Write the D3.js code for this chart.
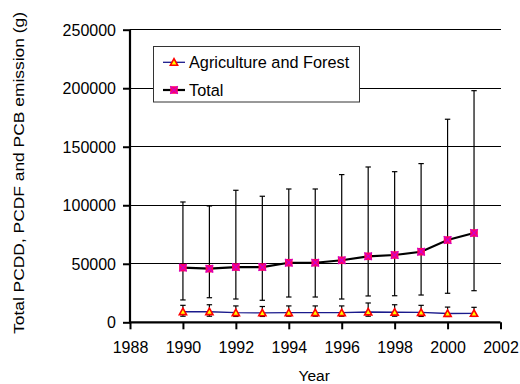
<!DOCTYPE html>
<html><head><meta charset="utf-8">
<script src="https://cdn.jsdelivr.net/npm/d3@7"></script>
<style>
body{margin:0;background:#fff;}
text{font-family:"Liberation Sans",Arial,sans-serif;fill:#000;}
</style></head>
<body><svg id="c" width="520" height="384"></svg>
<script>
const years = [1990,1991,1992,1993,1994,1995,1996,1997,1998,1999,2000,2001];
const totalValues = [46700,45800,47200,47200,50900,50900,53000,56400,57500,60300,70300,76300];
const totalUpper = [102800,99400,112800,107700,113900,113900,126200,132700,128700,135600,173500,197900];
const totalLower = [19100,21000,19900,18800,21600,21600,19900,22500,22700,23300,24800,27000];
const agriValues = [9000,9000,8200,8000,8200,8200,8200,8800,8600,8400,7500,7600];
const agriUpper = [14500,15000,14000,13500,14000,14000,14000,16500,15000,14500,13000,12800];
const agriLower = [5200,5200,5000,5000,5200,5200,5200,5200,5200,5000,5000,5000];
const xTicks = [1988,1990,1992,1994,1996,1998,2000,2002];
const yTicks = [0,50000,100000,150000,200000,250000];
const seriesNames = ["Agriculture and Forest","Total"];
const xTitle = "Year";
const yTitle = "Total PCDD, PCDF and PCB emission (g)";

const svg = d3.select("#c");
const L = 130, R = 500.5, T = 29.7, B = 322.3;
const x = d3.scaleLinear().domain([1988,2002]).range([L,R]);
const y = d3.scaleLinear().domain([0,250000]).range([B,T]);

// gridlines
svg.append("g").selectAll("line").data(yTicks.filter(d=>d>0)).join("line")
  .attr("x1",L).attr("x2",R).attr("y1",d=>y(d)).attr("y2",d=>y(d))
  .attr("stroke","#000").attr("stroke-width",1).attr("shape-rendering","crispEdges");

// axes
const yAxis = d3.axisLeft(y).tickValues(yTicks).tickSize(7).tickPadding(7).tickFormat(d3.format("d"));
const gy = svg.append("g").attr("transform",`translate(${L},0)`).call(yAxis);
const xAxis = d3.axisBottom(x).tickValues(xTicks).tickSize(7).tickPadding(12).tickFormat(d3.format("d"));
const gx = svg.append("g").attr("transform",`translate(0,${B})`).call(xAxis);
[gx,gy].forEach(g=>{
  g.select(".domain").attr("stroke","#000").attr("stroke-width",2.2);
  g.selectAll(".tick line").attr("stroke","#000").attr("stroke-width",2);
  g.selectAll(".tick text").attr("font-size",16).attr("font-family","Liberation Sans, Arial, sans-serif").attr("fill","#000");
});
gx.select(".domain").attr("d",`M${L-1},0H${R}`);
gy.select(".domain").attr("d",`M0,${T}V${B}`);
gy.selectAll(".tick text").attr("dy","0.35em");

// error bars
function errBars(vals, up, lo, color){
  const g = svg.append("g").attr("stroke",color).attr("stroke-width",1.2);
  years.forEach((yr,i)=>{
    const cx = x(yr);
    g.append("line").attr("x1",cx).attr("x2",cx).attr("y1",y(up[i])).attr("y2",y(lo[i]));
    g.append("line").attr("x1",cx-2.7).attr("x2",cx+2.7).attr("y1",y(up[i])).attr("y2",y(up[i]));
    g.append("line").attr("x1",cx-2.7).attr("x2",cx+2.7).attr("y1",y(lo[i])).attr("y2",y(lo[i]));
  });
}
errBars(totalValues,totalUpper,totalLower,"#000");
errBars(agriValues,agriUpper,agriLower,"#000");

const line = d3.line().x((d,i)=>x(years[i])).y(d=>y(d));
svg.append("path").datum(agriValues).attr("d",line).attr("fill","none").attr("stroke","#1a1a8c").attr("stroke-width",1.3);
svg.append("path").datum(totalValues).attr("d",line).attr("fill","none").attr("stroke","#000").attr("stroke-width",2.2);

function tri(g,cx,cy){
  const s=3.6;
  g.append("path").attr("d",`M${cx},${cy-s}L${cx+s},${cy+s*0.8}L${cx-s},${cy+s*0.8}Z`)
   .attr("fill","#ffff00").attr("stroke","#ff0000").attr("stroke-width",1.6);
}
function sq(g,cx,cy){
  const s=3.8;
  g.append("rect").attr("x",cx-s).attr("y",cy-s).attr("width",2*s).attr("height",2*s).attr("fill","#ff0066");
  g.append("path").attr("d",`M${cx-s},${cy-s}L${cx+s},${cy+s}M${cx+s},${cy-s}L${cx-s},${cy+s}`).attr("stroke","#cc00cc").attr("stroke-width",1.2);
}
const ga = svg.append("g");
agriValues.forEach((v,i)=>tri(ga,x(years[i]),y(v)));
const gt = svg.append("g");
totalValues.forEach((v,i)=>sq(gt,x(years[i]),y(v)));

// legend
const lg = svg.append("g");
lg.append("rect").attr("x",153.5).attr("y",46.5).attr("width",206).attr("height",55.5)
  .attr("fill","#fff").attr("stroke","#333").attr("stroke-width",1);
const rows = [62.3, 90];
lg.append("line").attr("x1",163).attr("x2",185).attr("y1",rows[0]).attr("y2",rows[0]).attr("stroke","#1a1a8c").attr("stroke-width",1.3);
tri(lg,174,rows[0]);
lg.append("line").attr("x1",163).attr("x2",185).attr("y1",rows[1]).attr("y2",rows[1]).attr("stroke","#000").attr("stroke-width",2.2);
sq(lg,174,rows[1]);
seriesNames.forEach((n,i)=>{
  lg.append("text").attr("x",189).attr("y",rows[i]).attr("dy","0.36em").attr("font-size",16.3).text(n);
});

// titles
svg.append("text").attr("x",(L+R)/2-1).attr("y",381).attr("text-anchor","middle").attr("font-size",15.5).text(xTitle);
svg.append("text").attr("transform",`translate(23.5,${(T+B)/2-3}) rotate(-90)`).attr("text-anchor","middle")
  .attr("font-size",15).attr("textLength",322).attr("lengthAdjust","spacingAndGlyphs").text(yTitle);
</script></body></html>
